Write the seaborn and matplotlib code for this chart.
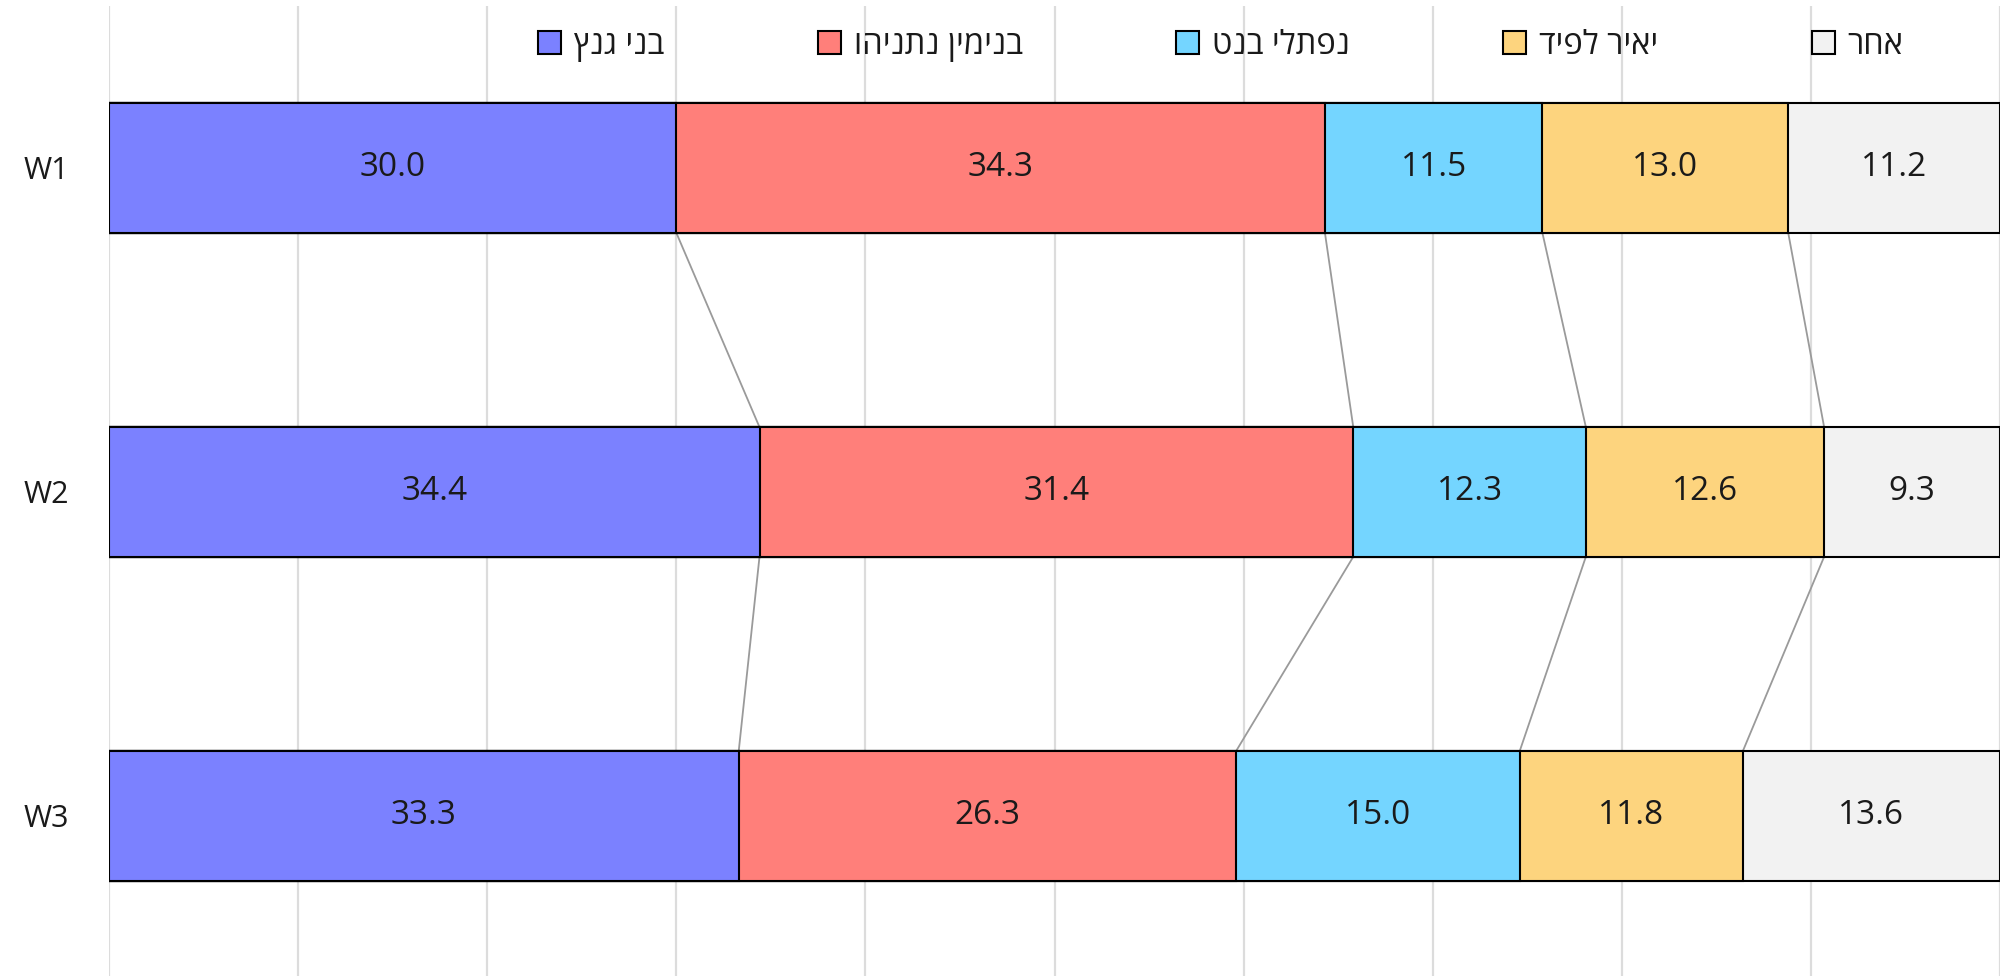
import numpy as np
import pandas as pd
import matplotlib
matplotlib.use('Agg')
import matplotlib.pyplot as plt
import matplotlib.patches as mpatches
import seaborn as sns

waves = ['W1', 'W2', 'W3']
parties = ['בני גנץ', 'בנימין נתניהו', 'נפתלי בנט', 'יאיר לפיד', 'אחר']
gantz = [30.0, 34.4, 33.3]
netanyahu = [34.3, 31.4, 26.3]
bennett = [11.5, 12.3, 15.0]
lapid = [13.0, 12.6, 11.8]
other = [11.2, 9.3, 13.6]
colors = ['#7b81ff', '#ff7f7a', '#74d5ff', '#fdd47e', '#f2f2f2']

vals = np.array([gantz, netanyahu, bennett, lapid, other]).T  # rows = waves
cum = vals.cumsum(axis=1)

sns.set_style('white')
plt.rcParams['font.family'] = ['Open Sans', 'DejaVu Sans']
txt = '#1a1a1a'

fig = plt.figure(figsize=(20, 9.76), dpi=100)
ax = fig.add_axes([109 / 2000, -0.002, 1 - 109 / 2000, 0.9959])

# stacked bars: draw cumulative totals, widest first
for i in reversed(range(len(parties))):
    df = pd.DataFrame({'wave': waves, 'val': cum[:, i]})
    sns.barplot(data=df, x='val', y='wave', orient='h', color=colors[i],
                saturation=1, width=0.4, edgecolor='black', linewidth=1.5,
                ax=ax, zorder=3)

# connectors between segment boundaries
for j in range(len(parties) - 1):
    for w in range(len(waves) - 1):
        ax.plot([cum[w, j], cum[w + 1, j]], [w + 0.2, w + 0.8],
                color='#9a9a9a', lw=1.3, zorder=2)

# value labels
for w in range(len(waves)):
    for i in range(len(parties)):
        ax.text(cum[w, i] - vals[w, i] / 2, w, f'{vals[w, i]:.1f}',
                ha='center', va='center', fontsize=24, color=txt, zorder=5)

ax.set_xlim(0, 100)
ax.set_ylim(2.5, -0.5)
ax.set_xticks(np.arange(0, 101, 10))
ax.xaxis.grid(True, color='#dcdcdc', lw=1.6)
ax.set_axisbelow(True)
ax.tick_params(axis='x', labelbottom=False, length=0)
ax.tick_params(axis='y', length=0, pad=29, labelsize=22, labelcolor=txt)
ax.set_xlabel('')
ax.set_ylabel('')
for s in ax.spines.values():
    s.set_visible(False)

handles = [mpatches.Patch(facecolor=c, edgecolor='black', lw=1.5) for c in colors]
ax.legend(handles, [p[::-1] for p in parties], loc='center',
          bbox_to_anchor=(0.588, 0.959), ncol=5, frameon=False, fontsize=23.5,
          handlelength=0.7, handleheight=0.7, handletextpad=0.4,
          columnspacing=4.7, labelcolor=txt)

fig.savefig('out.png', dpi=100)
